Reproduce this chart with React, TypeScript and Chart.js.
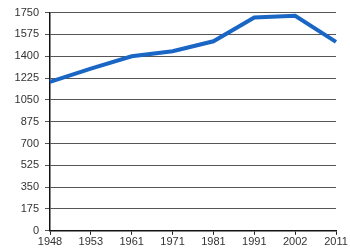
import React, { useEffect, useRef } from "react";
import { Chart, registerables } from "chart.js";

Chart.register(...registerables);

const years = ["1948", "1953", "1961", "1971", "1981", "1991", "2002", "2011"];
const population = [1195, 1300, 1400, 1440, 1520, 1710, 1725, 1515];
const yTicks = [0, 175, 350, 525, 700, 875, 1050, 1225, 1400, 1575, 1750];

export default function App() {
  const ref = useRef<HTMLCanvasElement | null>(null);
  useEffect(() => {
    document.body.style.margin = "0";
    const ctx = ref.current!;
    const chart = new Chart(ctx, {
      type: "line",
      data: {
        labels: years,
        datasets: [
          {
            data: population,
            borderColor: "#1a66c4",
            borderWidth: 4,
            pointRadius: 0,
            tension: 0,
            fill: false,
          },
        ],
      },
      options: {
        animation: false,
        responsive: false,
        maintainAspectRatio: false,
        layout: { padding: { top: 11, right: 14, left: 0, bottom: 0 } },
        plugins: { legend: { display: false }, tooltip: { enabled: false } },
        scales: {
          x: {
            offset: false,
            grid: { display: true, drawOnChartArea: false, color: "#222", tickLength: 4 },
            border: { color: "#111", width: 1.5 },
            ticks: {
              color: "#333",
              font: { family: "Liberation Sans, Arial", size: 11 },
              maxRotation: 0,
              autoSkip: false,
              padding: 1,
            },
          },
          y: {
            min: 0,
            max: 1750,
            afterBuildTicks: (s: any) => {
              s.ticks = yTicks.map((v) => ({ value: v }));
            },
            afterFit: (s: any) => {
              s.width = 50;
            },
            grid: { color: "#555", tickLength: 5 },
            border: { color: "#111", width: 1.5 },
            ticks: {
              color: "#333",
              font: { family: "Liberation Sans, Arial", size: 11 },
              padding: 6,
              callback: (v: any) => String(v),
            },
          },
        },
      },
    });
    return () => chart.destroy();
  }, []);
  return (
    <div style={{ position: "absolute", left: 0, top: 0, width: 350, height: 250 }}>
      <canvas ref={ref} width={350} height={250} style={{ width: 350, height: 250 }} />
    </div>
  );
}
